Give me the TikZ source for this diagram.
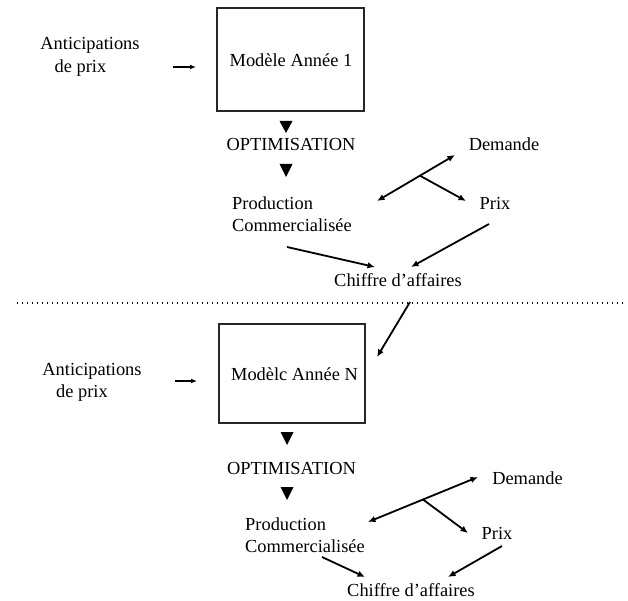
\documentclass[tikz,border=0pt]{standalone}
\usepackage{fontspec}
\setmainfont{Liberation Serif}
\usetikzlibrary{arrows.meta,calc}
\begin{document}
\begin{tikzpicture}[x=1pt,y=-1pt,
  lbl/.style={inner sep=0pt, font=\fontsize{18.4}{22}\selectfont},
  modelbox/.style={draw=black!85, line width=1.3pt, inner sep=0pt,
    minimum width=147pt, minimum height=103pt},
  conn/.style={line width=1.8pt, -{Latex[length=7.5pt,width=6.5pt]}},
  biconn/.style={line width=1.8pt, {Latex[length=7.5pt,width=6.5pt]}-{Latex[length=7.5pt,width=6.5pt]}},
  shortarr/.style={line width=1.5pt, -{Latex[length=6pt,width=5pt]}},
  downtri/.style={fill=black}
]
\useasboundingbox (0,0) rectangle (628,601);

% ---------- Year 1 ----------
\node[lbl] (antA1) at (90,45) {Anticipations};
\node[lbl] (antB1) at (80.5,68) {de prix};
\node[modelbox] (box1) at (290.5,59.5) {};
\node[lbl] (mod1) at (291,60) {Modèle Année 1};
\coordinate (inS1) at (173,67);
\coordinate (inE1) at (196,67);
\draw[shortarr] (inS1) -- (inE1);

\fill[downtri] (279.5,121) -- (292.5,121) -- (286,133) -- cycle;
\node[lbl] (opt1) at (291,145) {OPTIMISATION};
\fill[downtri] (279.5,164) -- (292.5,164) -- (286,177) -- cycle;

\node[lbl, align=left, anchor=west] (prod1) at (232,214) {Production\\Commercialisée};
\node[lbl] (dem1) at (504,144) {Demande};
\node[lbl] (prix1) at (495,203) {Prix};
\node[lbl] (ca1) at (398,280) {Chiffre d’affaires};

\coordinate (dA1) at (377,201);
\coordinate (dB1) at (455,155);
\coordinate (br1) at ($(dA1)!0.55!(dB1)$);
\coordinate (brE1) at (466,201);
\draw[biconn] (dA1) -- (dB1);
\draw[conn] (br1) -- (brE1);
\coordinate (pcS1) at (287,247);
\coordinate (pcE1) at (375,267);
\draw[conn] (pcS1) -- (pcE1);
\coordinate (pxS1) at (489,224);
\coordinate (pxE1) at (411,267);
\draw[conn] (pxS1) -- (pxE1);

% ---------- separator ----------
\coordinate (sepL) at (17,303);
\coordinate (sepR) at (626,303);
\draw[line width=1.2pt, dash pattern=on 1.4pt off 3.6pt] (sepL) -- (sepR);
\coordinate (lkS) at (410,302);
\coordinate (lkE) at (377,357);
\draw[conn] (lkS) -- (lkE);

% ---------- Year N ----------
\node[lbl] (antAN) at (92,371) {Anticipations};
\node[lbl] (antBN) at (82,393) {de prix};
\node[modelbox, minimum width=146pt, minimum height=99pt] (boxN) at (292,373.5) {};
\node[lbl] (modN) at (294.5,374) {Modèlc Année N};
\coordinate (inSN) at (175,381);
\coordinate (inEN) at (197,381);
\draw[shortarr] (inSN) -- (inEN);

\fill[downtri] (280.5,432) -- (293.5,432) -- (287,445) -- cycle;
\node[lbl] (optN) at (291.5,468) {OPTIMISATION};
\fill[downtri] (280.5,487) -- (293.5,487) -- (287,500) -- cycle;

\node[lbl, align=left, anchor=west] (prodN) at (245,535.5) {Production\\Commercialisée};
\node[lbl] (demN) at (527.5,478) {Demande};
\node[lbl] (prixN) at (497,533) {Prix};
\node[lbl] (caN) at (411,590) {Chiffre d’affaires};

\coordinate (dAN) at (368,522);
\coordinate (dBN) at (478,477);
\coordinate (brN) at ($(dAN)!0.5!(dBN)$);
\coordinate (brEN) at (468,533);
\draw[biconn] (dAN) -- (dBN);
\draw[conn] (brN) -- (brEN);
\coordinate (pcSN) at (322,557);
\coordinate (pcEN) at (365,577);
\draw[conn] (pcSN) -- (pcEN);
\coordinate (pxSN) at (502,546);
\coordinate (pxEN) at (448,577);
\draw[conn] (pxSN) -- (pxEN);
\end{tikzpicture}
\end{document}
